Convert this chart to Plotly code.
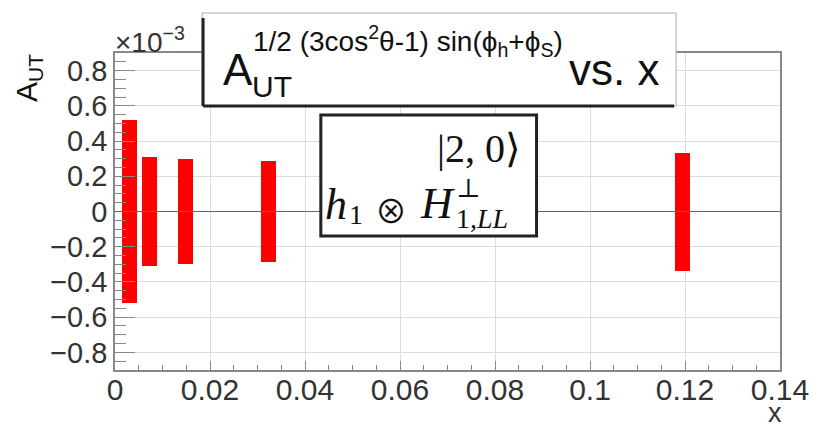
import plotly.graph_objects as go

# ---- data ----
x_centers = [0.0031, 0.0073, 0.0148, 0.0323, 0.1195]
asym_err = [0.52, 0.31, 0.30, 0.285, 0.335]   # half-height of band (x 10^-3)
asym_val = [0.0, 0.0, 0.0, 0.0, 0.0]
x_tickvals = [0, 0.02, 0.04, 0.06, 0.08, 0.1, 0.12, 0.14]
x_ticktext = ["0", "0.02", "0.04", "0.06", "0.08", "0.1", "0.12", "0.14"]
y_tickvals = [-0.8, -0.6, -0.4, -0.2, 0, 0.2, 0.4, 0.6, 0.8]
y_ticktext = ["\u22120.8", "\u22120.6", "\u22120.4", "\u22120.2", "0", "0.2", "0.4", "0.6", "0.8"]

W, H = 821, 428
L, R, T, B = 115, 787, 53, 370   # plot frame in pixels
PW, PH = R - L, B - T

def fx(px):
    return (px - L) / PW

def fy(py):
    return (B - py) / PH

SANS = "Liberation Sans"
SERIF = "Liberation Serif"

fig = go.Figure()
fig.add_trace(go.Bar(
    x=x_centers,
    y=[2 * e for e in asym_err],
    base=[v - e for v, e in zip(asym_val, asym_err)],
    width=0.0031,
    marker=dict(color="#ff0000", line=dict(width=0)),
    showlegend=False,
))

annotations = []

def ann(text, px, py_base, size, family=SANS, anchor="left", color="#111", k=None, angle=0, yanchor="middle"):
    if k is None:
        k = 0.3465 if family == SANS else 0.3375
    cy = py_base - k * size
    annotations.append(dict(
        text=text, x=fx(px), y=fy(cy), xref="paper", yref="paper",
        xanchor=anchor, yanchor=yanchor, showarrow=False, textangle=angle,
        font=dict(family=family, size=size, color=color),
    ))

# title pieces
ann("A", 222, 85, 44)
ann("UT", 251, 97, 30)
ann("1/2 (3cos<sup>2</sup>θ-1) sin(ϕ<sub>h</sub>+ϕ<sub>S</sub>)", 252, 51, 28)
ann("vs. x", 572, 85, 44)

# legend box text
ann("|2, 0⟩", 527, 162, 40, family=SERIF, anchor="right")
ann("<i>h</i>", 325, 219, 44, family=SERIF)
ann("1", 349, 224, 28, family=SERIF)
ann("⊗", 376, 219, 32, family="Noto Sans CJK SC", k=0.30)
ann("<i>H</i>", 421, 218, 44, family=SERIF)
ann("⊥", 458, 197, 26, family="DejaVu Serif")
ann("1,<i>LL</i>", 458, 228, 28, family=SERIF)

# axis titles
annotations.append(dict(
    text="A<sub>UT</sub>", x=fx(28), y=fy(78), xref="paper", yref="paper",
    xanchor="center", yanchor="middle", showarrow=False, textangle=-90,
    font=dict(family=SANS, size=30, color="#111"),
))
ann("×10<sup>−3</sup>", 113, 50, 28, color="#333")
ann("x", 773, 422, 27, color="#333")

shapes = [
    # zero line
    dict(type="line", xref="x", yref="y", x0=0, x1=0.14, y0=0, y1=0,
         line=dict(color="#666", width=1.2), layer="above"),
    # title box
    dict(type="rect", xref="paper", yref="paper", x0=fx(203), x1=fx(682), y0=fy(106), y1=fy(13),
         fillcolor="white", line=dict(color="#aaa", width=1), layer="above"),
    dict(type="line", xref="paper", yref="paper", x0=fx(204), x1=fx(204), y0=fy(106), y1=fy(18),
         line=dict(color="#222", width=3), layer="above"),
    dict(type="line", xref="paper", yref="paper", x0=fx(204), x1=fx(680), y0=fy(106), y1=fy(106),
         line=dict(color="#222", width=3), layer="above"),
    # legend box
    dict(type="rect", xref="paper", yref="paper", x0=fx(323), x1=fx(541), y0=fy(236), y1=fy(115),
         fillcolor="white", line=dict(color="#222", width=3), layer="above"),
]

fig.update_layout(
    width=W, height=H,
    margin=dict(l=L, r=W - R, t=T, b=H - B, pad=0),
    paper_bgcolor="white", plot_bgcolor="white",
    bargap=0,
    annotations=annotations,
    shapes=shapes,
    font=dict(family=SANS, size=30, color="#222"),
)
fig.update_xaxes(
    range=[0, 0.14], tickvals=x_tickvals, ticktext=x_ticktext,
    showgrid=True, gridcolor="#dcdcdc", gridwidth=1,
    showline=True, mirror=True, linecolor="#888", linewidth=1.5,
    ticks="inside", ticklen=9, tickcolor="#888", tickwidth=1,
    minor=dict(dtick=0.005, ticks="inside", ticklen=5, tickcolor="#888", showgrid=False),
    zeroline=False, tickfont=dict(size=30, color="#333"),
    ticklabelstandoff=-8,
)
fig.update_yaxes(
    range=[-0.9, 0.9], tickvals=y_tickvals, ticktext=y_ticktext,
    showgrid=True, gridcolor="#dcdcdc", gridwidth=1,
    showline=True, mirror=True, linecolor="#888", linewidth=1.5,
    ticks="inside", ticklen=20, tickcolor="#888", tickwidth=1,
    minor=dict(dtick=0.05, ticks="inside", ticklen=11, tickcolor="#888", showgrid=False),
    zeroline=False, tickfont=dict(size=29, color="#333"),
)

fig.write_html("out.html")
